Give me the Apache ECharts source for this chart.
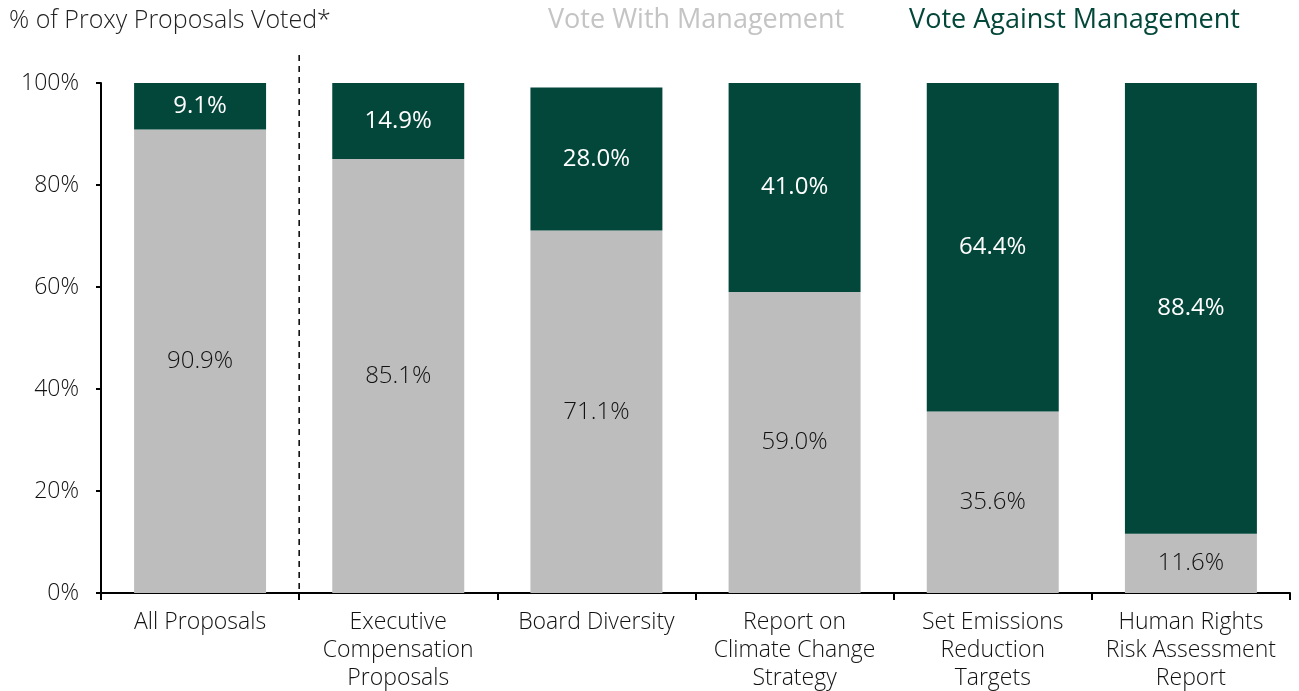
<!DOCTYPE html>
<html>
<head>
<meta charset="utf-8">
<script src="https://cdn.jsdelivr.net/npm/echarts@6/dist/echarts.min.js"></script>
<style>html,body{margin:0;padding:0;background:#fff;overflow:hidden}#c{width:1299px;height:691px}</style>
</head>
<body>
<div id="c"></div>
<script>
const categories = ['All Proposals', 'Executive\nCompensation\nProposals', 'Board Diversity', 'Report on\nClimate Change\nStrategy', 'Set Emissions\nReduction\nTargets', 'Human Rights\nRisk Assessment\nReport'];
const voteWith = [90.9, 85.1, 71.1, 59.0, 35.6, 11.6];
const voteAgainst = [9.1, 14.9, 28.0, 41.0, 64.4, 88.4];
const yTicks = [0, 20, 40, 60, 80, 100];
const dividerX = 0.5;

const FONT = 'Open Sans';
const GRAY = '#bcbdbc';
const GREEN = '#03473a';
const INK = '#111';

const chart = echarts.init(document.getElementById('c'));
chart.setOption({
  animation: false,
  textStyle: { fontFamily: FONT },
  title: {
    text: '% of Proxy Proposals Voted*',
    left: 4, top: 3,
    textStyle: { fontFamily: FONT, fontSize: 25, fontWeight: 300, color: '#222' }
  },
  legend: {
    left: 538, top: 2,
    itemWidth: 0, itemHeight: 0, itemGap: 60,
    selectedMode: false,
    data: [
      { name: 'Vote With Management', textStyle: { color: '#c4c4c4', fontWeight: 'normal' } },
      { name: 'Vote Against Management', textStyle: { color: GREEN, fontWeight: 500 } }
    ],
    textStyle: { fontFamily: FONT, fontSize: 27 }
  },
  grid: { left: 101, right: 9, top: 83, bottom: 98, containLabel: false, outerBoundsMode: 'none' },
  xAxis: [{
    type: 'category',
    data: categories,
    axisLine: { lineStyle: { color: '#000', width: 2 } },
    axisTick: { show: true, length: 7, lineStyle: { color: '#000', width: 2 } },
    axisLabel: { color: INK, fontSize: 23, fontWeight: 300, fontFamily: FONT, lineHeight: 28, margin: 15, interval: 0 }
  }, {
    type: 'value', min: -0.5, max: 5.5, show: false
  }],
  yAxis: {
    type: 'value', min: 0, max: 100, interval: 20,
    axisLine: { show: true, onZero: false, lineStyle: { color: '#000', width: 2 } },
    axisTick: { show: true, length: 5, lineStyle: { color: '#000', width: 2 } },
    splitLine: { show: false },
    axisLabel: { color: INK, fontSize: 23, fontWeight: 300, fontFamily: FONT, margin: 22, formatter: v => yTicks.includes(v) ? v + '%' : '' }
  },
  series: [{
    name: 'Vote With Management',
    type: 'bar', stack: 'v', barWidth: '66.6%',
    data: voteWith,
    itemStyle: { color: GRAY },
    label: { show: true, position: 'inside', color: INK, fontSize: 24, fontWeight: 300, fontFamily: FONT, formatter: p => p.value.toFixed(1) + '%' }
  }, {
    name: 'Vote Against Management',
    type: 'bar', stack: 'v', barWidth: '66.6%',
    data: voteAgainst,
    itemStyle: { color: GREEN },
    label: { show: true, position: 'inside', color: '#fff', fontSize: 24, fontWeight: 500, fontFamily: FONT, formatter: p => p.value.toFixed(1) + '%' }
  }, {
    name: 'divider',
    type: 'line', xAxisIndex: 1, silent: true, clip: false,
    symbol: 'none',
    data: [[dividerX, 105.5], [dividerX, -1.5]],
    lineStyle: { color: '#000', width: 1.5, type: [6, 5] },
    z: 5
  }]
});
</script>
</body>
</html>
